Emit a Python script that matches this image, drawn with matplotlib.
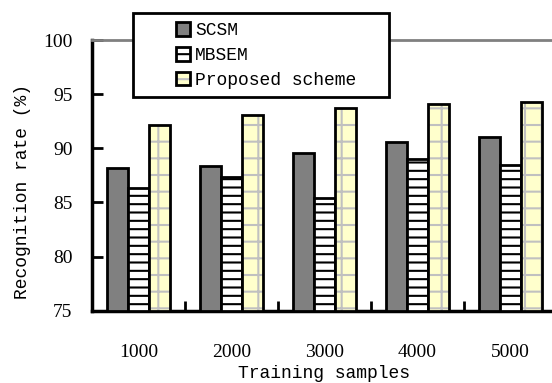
import numpy as np
import matplotlib
matplotlib.use("Agg")
from matplotlib import pyplot as plt
from matplotlib.patches import Patch, Rectangle

# data
samples = ["1000", "2000", "3000", "4000", "5000"]
scsm = [88.2, 88.35, 89.55, 90.55, 91.05]
mbsem = [86.35, 87.35, 85.45, 89.05, 88.45]
proposed = [92.15, 93.05, 93.75, 94.05, 94.25]
yticks = [75, 80, 85, 90, 95, 100]

plt.rcParams['hatch.linewidth'] = 1.5
mono = 'Liberation Mono'
serif = 'Liberation Serif'

fig = plt.figure(figsize=(5.52, 3.83), dpi=100)
# right edge of the plot runs past the picture, as in the original
ax = fig.add_axes([92 / 552, 72.3 / 383, 465 / 552, 270.7 / 383])

x = np.arange(len(samples))
w = 0.223
lw = 2.0

ax.bar(x - w, np.array(scsm) - 75, w, bottom=75, color='#808080',
       edgecolor='black', linewidth=lw, zorder=3)
ax.bar(x, np.array(mbsem) - 75, w, bottom=75, color='white',
       edgecolor='black', hatch='--', linewidth=lw, zorder=3)
# grey grid hatch first, black outline on top
ax.bar(x + w, np.array(proposed) - 75, w, bottom=75, color='#FFFFCC',
       edgecolor='#C0C0C0', hatch='+', linewidth=0, zorder=3)
ax.bar(x + w, np.array(proposed) - 75, w, bottom=75, fill=False,
       edgecolor='black', linewidth=lw, zorder=4)

ax.set_xlim(-0.5, 4.5)
ax.set_ylim(75, 100)
ax.set_yticks(yticks)
ax.set_xticks(x)
ax.set_xticklabels(samples, fontfamily=serif, fontsize=14)
ax.set_xticks(x[:-1] + 0.5, minor=True)
ax.tick_params(axis='x', which='major', length=0, pad=24)
ax.tick_params(axis='x', which='minor', direction='in', length=7, width=2)
ax.tick_params(axis='y', direction='in', length=8, width=2, pad=14)
for lab in ax.get_yticklabels():
    lab.set_fontfamily(serif)
    lab.set_fontsize(14)

ax.spines['left'].set_linewidth(2.5)
ax.spines['bottom'].set_linewidth(2.5)
ax.spines['top'].set_color('#808080')
ax.spines['top'].set_linewidth(2)
ax.spines['right'].set_visible(False)

ax.set_xlabel('Training samples', fontfamily=mono, fontsize=13)
ax.xaxis.set_label_coords(0.5, -0.2)
ax.set_ylabel('Recognition rate (%)', fontfamily=mono, fontsize=13)
ax.yaxis.set_label_coords(-0.132, 0.4385)

# legend box drawn by hand to match the fixed-size frame
box = Rectangle(((132.7 - 92) / 465, (310.7 - 96.7) / 270.7),
                256.3 / 465, 83.4 / 270.7, transform=ax.transAxes,
                facecolor='white', edgecolor='black', linewidth=2,
                clip_on=False, zorder=5)
ax.add_patch(box)

h1 = Patch(facecolor='#808080', edgecolor='black', linewidth=2)
h2 = Patch(facecolor='white', edgecolor='black', hatch='--', linewidth=2)
h3 = (Patch(facecolor='#FFFFCC', edgecolor='#C0C0C0', hatch='--', linewidth=0),
      Patch(fill=False, edgecolor='black', linewidth=2))
leg = ax.legend([h1, h2, h3], ['SCSM', 'MBSEM', 'Proposed scheme'],
                loc='upper left', bbox_to_anchor=((175.5 - 92) / 465, (310.7 - 22) / 270.7),
                frameon=False, prop={'family': mono, 'size': 13},
                handlelength=0.8, handleheight=0.8, handletextpad=0.3,
                labelspacing=0.42, borderaxespad=0, borderpad=0)
leg.set_zorder(6)

fig.savefig('out.png', dpi=100)
